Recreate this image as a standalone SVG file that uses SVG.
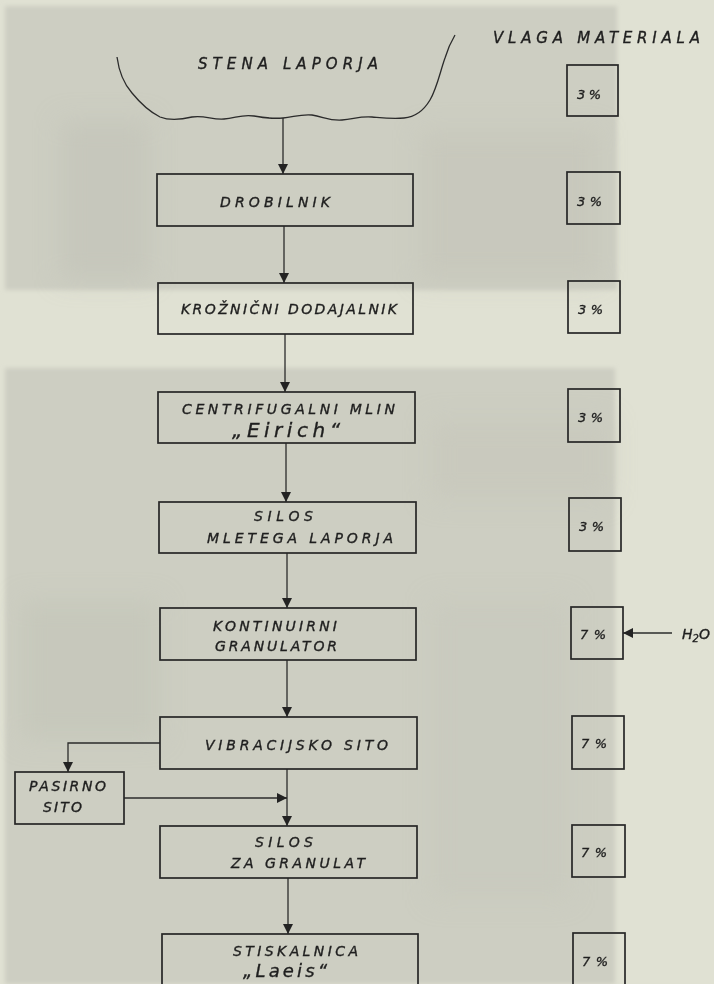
<svg xmlns="http://www.w3.org/2000/svg" width="714" height="984" viewBox="0 0 714 984">
<defs>
<style>
.bg{fill:#e0e1d3}
.photo{fill:#cdcec2}
.box{fill:none;stroke:#262626;stroke-width:1.7}
.ln{fill:none;stroke:#2b2b2b;stroke-width:1.3}
.t{font-family:"DejaVu Sans","Liberation Sans",sans-serif;font-style:italic;font-size:14px;fill:#1f1f1f;stroke:#1f1f1f;stroke-width:0.35}
.big{font-size:20px}
.mid{font-size:18px}
.hd{font-size:15px}
.pc{font-size:13px}
</style>
<marker id="ah" viewBox="0 0 10 10" refX="10" refY="5" markerWidth="10" markerHeight="10" markerUnits="userSpaceOnUse" orient="auto">
<path d="M0,0 L10,5 L0,10 z" fill="#232323"/>
</marker>
<filter id="blur" x="-20%" y="-20%" width="140%" height="140%"><feGaussianBlur stdDeviation="12"/></filter>
<filter id="soft" x="-5%" y="-5%" width="110%" height="110%"><feGaussianBlur stdDeviation="2"/></filter>
</defs>

<rect class="bg" x="0" y="0" width="714" height="984"/>
<g id="background">
<g filter="url(#soft)">
<rect class="photo" x="5" y="6" width="612" height="284"/>
<rect class="photo" x="5" y="368" width="610" height="616"/>
</g>
<g filter="url(#blur)">
<rect x="60" y="120" width="90" height="160" fill="#c2c3b7" opacity="0.6"/>
<rect x="420" y="130" width="180" height="150" fill="#c4c5b9" opacity="0.6"/>
<rect x="20" y="600" width="140" height="140" fill="#c3c4b8" opacity="0.6"/>
<rect x="430" y="420" width="180" height="80" fill="#c6c7bb" opacity="0.6"/>
<rect x="430" y="600" width="140" height="300" fill="#c6c7bb" opacity="0.5"/>
</g>
</g>

<g id="connectors">
<path class="ln" d="M283,118 V174" marker-end="url(#ah)"/>
<path class="ln" d="M284,226 V283" marker-end="url(#ah)"/>
<path class="ln" d="M285,334 V392" marker-end="url(#ah)"/>
<path class="ln" d="M286,443 V502" marker-end="url(#ah)"/>
<path class="ln" d="M287,553 V608" marker-end="url(#ah)"/>
<path class="ln" d="M287,660 V717" marker-end="url(#ah)"/>
<path class="ln" d="M287,769 V826" marker-end="url(#ah)"/>
<path class="ln" d="M288,878 V934" marker-end="url(#ah)"/>
<path class="ln" d="M160,743 H68 V772" marker-end="url(#ah)"/>
<path class="ln" d="M124,798 H287" marker-end="url(#ah)"/>
<path class="ln" d="M672,633 H623" marker-end="url(#ah)"/>
</g>

<g id="stena">
<path class="ln" stroke-width="1.5" d="M117,57 C119,72 124,84 132,93 C141,104 150,112 160,117 C170,121 180,120 192,117 C205,115 212,120 224,119 C236,118 242,114 254,116 C266,118 272,119 283,118 C294,117 300,114 312,115 C324,117 330,121 342,120 C354,119 360,116 372,117 C384,118 392,119 404,118 C416,117 424,110 430,100 C437,88 440,72 445,58 C448,48 452,40 455,35"/>
<text class="t hd" x="198" y="69" textLength="180" lengthAdjust="spacing">STENA  LAPORJA</text>
</g>

<g id="header">
<text class="t hd" x="493" y="43" textLength="207" lengthAdjust="spacing">VLAGA  MATERIALA</text>
</g>

<g id="drobilnik">
<rect class="box" x="157" y="174" width="256" height="52"/>
<text class="t" x="220" y="207" textLength="110" lengthAdjust="spacing">DROBILNIK</text>
</g>
<g id="kroznicni">
<rect class="box" x="158" y="283" width="255" height="51"/>
<text class="t" x="181" y="314" textLength="216" lengthAdjust="spacing">KROŽNIČNI  DODAJALNIK</text>
</g>
<g id="centrifugalni">
<rect class="box" x="158" y="392" width="257" height="51"/>
<text class="t" x="182" y="414" textLength="213" lengthAdjust="spacing">CENTRIFUGALNI   MLIN</text>
<text class="t big" x="232" y="437" textLength="108" lengthAdjust="spacing">„Eirich“</text>
</g>
<g id="silos-mletega">
<rect class="box" x="159" y="502" width="257" height="51"/>
<text class="t" x="254" y="521" textLength="59" lengthAdjust="spacing">SILOS</text>
<text class="t" x="207" y="543" textLength="186" lengthAdjust="spacing">MLETEGA  LAPORJA</text>
</g>
<g id="kontinuirni">
<rect class="box" x="160" y="608" width="256" height="52"/>
<text class="t" x="213" y="631" textLength="124" lengthAdjust="spacing">KONTINUIRNI</text>
<text class="t" x="215" y="651" textLength="122" lengthAdjust="spacing">GRANULATOR</text>
</g>
<g id="vibracijsko">
<rect class="box" x="160" y="717" width="257" height="52"/>
<text class="t" x="205" y="750" textLength="183" lengthAdjust="spacing">VIBRACIJSKO  SITO</text>
</g>
<g id="pasirno">
<rect class="box" x="15" y="772" width="109" height="52"/>
<text class="t" x="29" y="791" textLength="77" lengthAdjust="spacing">PASIRNO</text>
<text class="t" x="43" y="812" textLength="39" lengthAdjust="spacing">SITO</text>
</g>
<g id="silos-granulat">
<rect class="box" x="160" y="826" width="257" height="52"/>
<text class="t" x="255" y="847" textLength="58" lengthAdjust="spacing">SILOS</text>
<text class="t" x="231" y="868" textLength="134" lengthAdjust="spacing">ZA  GRANULAT</text>
</g>
<g id="stiskalnica">
<rect class="box" x="162" y="934" width="256" height="60"/>
<text class="t" x="233" y="956" textLength="125" lengthAdjust="spacing">STISKALNICA</text>
<text class="t mid" x="243" y="977" textLength="84" lengthAdjust="spacing">„Laeis“</text>
</g>

<g id="moisture">
<g id="m1"><rect class="box" x="567" y="65" width="51" height="51"/><text class="t pc" x="577" y="99" textLength="24" lengthAdjust="spacing">3%</text></g>
<g id="m2"><rect class="box" x="567" y="172" width="53" height="52"/><text class="t pc" x="577" y="206" textLength="25" lengthAdjust="spacing">3%</text></g>
<g id="m3"><rect class="box" x="568" y="281" width="52" height="52"/><text class="t pc" x="578" y="314" textLength="25" lengthAdjust="spacing">3%</text></g>
<g id="m4"><rect class="box" x="568" y="389" width="52" height="53"/><text class="t pc" x="578" y="422" textLength="25" lengthAdjust="spacing">3%</text></g>
<g id="m5"><rect class="box" x="569" y="498" width="52" height="53"/><text class="t pc" x="579" y="531" textLength="25" lengthAdjust="spacing">3%</text></g>
<g id="m6"><rect class="box" x="571" y="607" width="52" height="52"/><text class="t pc" x="580" y="639" textLength="26" lengthAdjust="spacing">7%</text></g>
<g id="m7"><rect class="box" x="572" y="716" width="52" height="53"/><text class="t pc" x="581" y="748" textLength="26" lengthAdjust="spacing">7%</text></g>
<g id="m8"><rect class="box" x="572" y="825" width="53" height="52"/><text class="t pc" x="581" y="857" textLength="26" lengthAdjust="spacing">7%</text></g>
<g id="m9"><rect class="box" x="573" y="933" width="52" height="60"/><text class="t pc" x="582" y="966" textLength="26" lengthAdjust="spacing">7%</text></g>
</g>

<g id="h2o">
<text class="t" x="682" y="639">H<tspan font-size="10" dy="3">2</tspan><tspan dy="-3">O</tspan></text>
</g>
</svg>
